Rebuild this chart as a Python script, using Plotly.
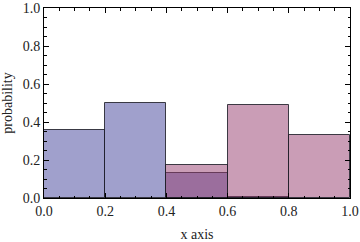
import plotly.graph_objects as go

bin_centers_a = [0.1, 0.3, 0.5, 0.7]
probs_a = [0.356, 0.5, 0.13, 0.007]
bin_centers_b = [0.5, 0.7, 0.9]
probs_b = [0.172, 0.488, 0.33]
bin_width = 0.2
tick_vals = [0.0, 0.2, 0.4, 0.6, 0.8, 1.0]
tick_text = ["0.0", "0.2", "0.4", "0.6", "0.8", "1.0"]

fig = go.Figure()
fig.add_trace(go.Bar(x=bin_centers_a, y=probs_a, width=bin_width,
                     marker=dict(color="rgba(65,65,153,0.5)",
                                 line=dict(color="rgba(30,30,40,0.85)", width=1))))
fig.add_trace(go.Bar(x=bin_centers_b, y=probs_b, width=bin_width,
                     marker=dict(color="rgba(149,59,109,0.5)",
                                 line=dict(color="rgba(30,30,40,0.85)", width=1))))

font = dict(family="Liberation Serif, Times New Roman, serif", size=14, color="#222")
axis_common = dict(
    range=[0, 1], tickvals=tick_vals, ticktext=tick_text,
    ticks="inside", ticklen=5, tickwidth=1, tickcolor="#000",
    showline=True, linecolor="#000", linewidth=1, mirror="allticks",
    showgrid=False, zeroline=False, tickfont=font, automargin=False,
    minor=dict(ticks="inside", ticklen=2.5, dtick=0.05, tickcolor="#000", showgrid=False),
)
fig.update_layout(
    width=360, height=242,
    margin=dict(l=44, r=10, t=8, b=44),
    barmode="overlay", bargap=0, showlegend=False,
    plot_bgcolor="white", paper_bgcolor="white",
    xaxis=dict(title=dict(text="x axis", font=font), **axis_common),
    yaxis=dict(title=dict(text="probability", font=font), **axis_common),
)
fig.write_html("out.html")
